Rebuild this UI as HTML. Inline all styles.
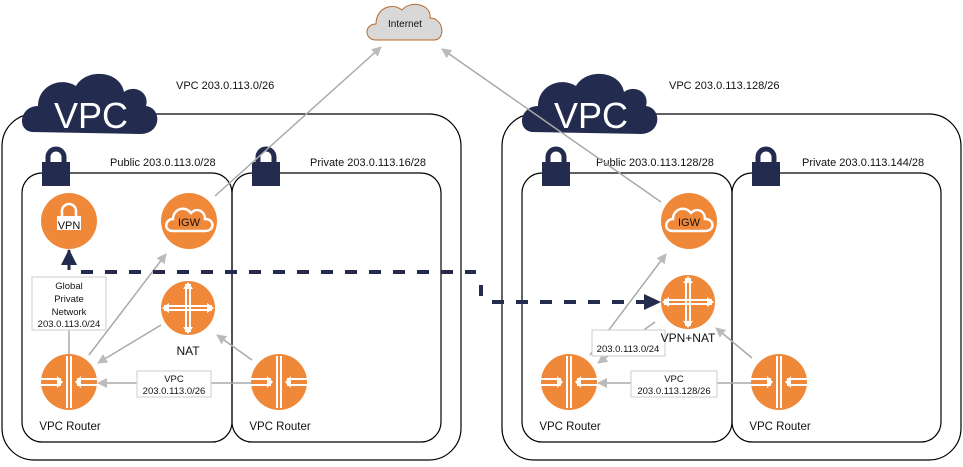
<!DOCTYPE html>
<html><head><meta charset="utf-8"><style>
body{margin:0;background:#fff}
svg{display:block}
text{font-family:"Liberation Sans",sans-serif;font-size:11px;fill:#111}
</style></head><body>
<svg width="963" height="467" viewBox="0 0 963 467" xmlns="http://www.w3.org/2000/svg">
<defs>
<marker id="ga" markerWidth="10" markerHeight="10" refX="9" refY="5" orient="auto" markerUnits="userSpaceOnUse"><path d="M0,0 L10,5 L0,10 z" fill="#bbb"/></marker>
<marker id="na" markerWidth="16" markerHeight="16" refX="15" refY="8" orient="auto" markerUnits="userSpaceOnUse"><path d="M0,0 L16,8 L0,16 z" fill="#232c4f"/></marker>
<g id="cloud"><path d="M12,60 C-4,58 0,34 18,34 C18,14 40,4 56,14 C66,-4 100,-2 104,20 C114,12 130,20 126,34 C142,36 142,62 120,62 Z" fill="#232c4f"/></g>
<g id="lock"><path d="M6,15 V9 a8,8 0 0 1 16,0 V15" fill="none" stroke="#232c4f" stroke-width="5"/><rect x="0" y="14" width="28" height="24" fill="#232c4f"/></g>
<g id="router"><circle r="28" fill="#f0883a"/><g stroke="#fff" stroke-width="2" fill="none"><line x1="-2" y1="-26" x2="-2" y2="26"/><line x1="2" y1="-26" x2="2" y2="26"/><line x1="-28" y1="-3" x2="-8" y2="-3"/><line x1="8" y1="-3" x2="28" y2="-3"/><line x1="-28" y1="3" x2="-8" y2="3"/><line x1="8" y1="3" x2="28" y2="3"/></g><path d="M-12,-6 L-6,0 L-12,6 z M12,-6 L6,0 L12,6 z" fill="#fff"/></g>
<g id="cross"><circle r="27" fill="#f0883a"/><g stroke="#fff" stroke-width="2" fill="none"><line x1="-2" y1="-24" x2="-2" y2="24"/><line x1="2" y1="-24" x2="2" y2="24"/><line x1="-24" y1="-2" x2="24" y2="-2"/><line x1="-24" y1="2" x2="24" y2="2"/></g><path d="M-5,-19 L0,-26 L5,-19 z M-5,19 L0,26 L5,19 z M-19,-5 L-26,0 L-19,5 z M19,-5 L26,0 L19,5 z" fill="#fff"/></g>
<g id="igw"><circle r="28" fill="#f0883a"/><path d="M-16,10 C-26,10 -24,-2 -16,-2 C-16,-12 -4,-16 2,-8 C8,-14 16,-10 16,-2 C26,-2 26,10 16,10 Z" fill="none" stroke="#fff" stroke-width="2.5"/><text x="0" y="5" text-anchor="middle" style="font-size:11px">IGW</text></g>
</defs>

<path d="M376,40 C364,40 364,24 376,24 C376,8 392,2 402,10 C410,0 432,4 430,18 C444,18 446,40 434,40 Z" fill="#d8d8d8" stroke="#b96a2a" stroke-width="1"/>
<text x="405" y="27" text-anchor="middle" style="font-size:10px">Internet</text>

<rect x="2" y="114" width="459" height="346" rx="32" fill="none" stroke="#000" stroke-width="1.2"/>
<rect x="22" y="173" width="210" height="269" rx="20" fill="none" stroke="#000" stroke-width="1.2"/>
<rect x="232" y="173" width="209" height="269" rx="20" fill="none" stroke="#000" stroke-width="1.2"/>
<use href="#cloud" x="20" y="72"/>
<text x="91" y="128" text-anchor="middle" style="font-size:36px;fill:#fff">VPC</text>
<text x="176" y="89">VPC 203.0.113.0/26</text>
<text x="110" y="166">Public 203.0.113.0/28</text>
<text x="310" y="166">Private 203.0.113.16/28</text>
<use href="#lock" x="42" y="148"/>
<use href="#lock" x="252" y="148"/>

<rect x="502" y="114" width="459" height="346" rx="32" fill="none" stroke="#000" stroke-width="1.2"/>
<rect x="522" y="173" width="210" height="269" rx="20" fill="none" stroke="#000" stroke-width="1.2"/>
<rect x="732" y="173" width="209" height="269" rx="20" fill="none" stroke="#000" stroke-width="1.2"/>
<use href="#cloud" x="520" y="72"/>
<text x="591" y="128" text-anchor="middle" style="font-size:36px;fill:#fff">VPC</text>
<text x="669" y="89">VPC 203.0.113.128/26</text>
<text x="596" y="166">Public 203.0.113.128/28</text>
<text x="802" y="166">Private 203.0.113.144/28</text>
<use href="#lock" x="542" y="148"/>
<use href="#lock" x="752" y="148"/>

<g stroke="#aaa" stroke-width="1.5" fill="none">
<line x1="215" y1="196" x2="381" y2="47" marker-end="url(#ga)"/>
<line x1="661" y1="202" x2="442" y2="49" marker-end="url(#ga)"/>
<line x1="89" y1="355" x2="166" y2="254" marker-end="url(#ga)"/>
<line x1="161" y1="325" x2="98" y2="363" marker-end="url(#ga)"/>
<line x1="252" y1="360" x2="217" y2="335" marker-end="url(#ga)"/>
<line x1="252" y1="383" x2="98" y2="383" marker-end="url(#ga)"/>
<line x1="69" y1="355" x2="69" y2="280"/>
<line x1="590" y1="355" x2="666" y2="254" marker-end="url(#ga)"/>
<line x1="655" y1="322" x2="598" y2="363" marker-end="url(#ga)"/>
<line x1="752" y1="358" x2="716" y2="328" marker-end="url(#ga)"/>
<line x1="752" y1="383" x2="598" y2="383" marker-end="url(#ga)"/>
</g>

<circle cx="69" cy="221" r="28" fill="#f0883a"/>
<path d="M62,217 V211 a7,7 0 0 1 14,0 V217" fill="none" stroke="#fff" stroke-width="2.5"/>
<rect x="57" y="216" width="24" height="14" fill="#fff"/>
<text x="69" y="229" text-anchor="middle" style="font-size:11px">VPN</text>
<use href="#igw" x="189" y="221"/>
<use href="#cross" x="188" y="308"/>
<text x="188" y="355" text-anchor="middle" style="font-size:12px">NAT</text>
<use href="#router" x="69" y="382"/>
<use href="#router" x="279" y="382"/>
<text x="70" y="430" text-anchor="middle" style="font-size:11.5px">VPC Router</text>
<text x="280" y="430" text-anchor="middle" style="font-size:11.5px">VPC Router</text>
<line x1="69" y1="270" x2="69" y2="250" stroke="#232c4f" stroke-width="3" marker-end="url(#na)"/>
<rect x="32" y="277" width="74" height="53" fill="#fff" stroke="#ccc"/>
<text x="69" y="289" text-anchor="middle" style="font-size:9.5px">Global</text>
<text x="69" y="302" text-anchor="middle" style="font-size:9.5px">Private</text>
<text x="69" y="315" text-anchor="middle" style="font-size:9.5px">Network</text>
<text x="69" y="327" text-anchor="middle" style="font-size:9.5px">203.0.113.0/24</text>
<rect x="137" y="371" width="74" height="26" fill="#fff" stroke="#ccc"/>
<text x="174" y="382" text-anchor="middle" style="font-size:9.5px">VPC</text>
<text x="174" y="394" text-anchor="middle" style="font-size:9.5px">203.0.113.0/26</text>

<use href="#igw" x="689" y="221"/>
<use href="#cross" x="688" y="302"/>
<rect x="592" y="330" width="73" height="26" fill="#fff" stroke="#ccc"/>
<text x="628" y="352" text-anchor="middle" style="font-size:9.5px">203.0.113.0/24</text>
<text x="688" y="342" text-anchor="middle" style="font-size:12px">VPN+NAT</text>
<use href="#router" x="569" y="382"/>
<use href="#router" x="779" y="382"/>
<text x="570" y="430" text-anchor="middle" style="font-size:11.5px">VPC Router</text>
<text x="780" y="430" text-anchor="middle" style="font-size:11.5px">VPC Router</text>
<rect x="631" y="371" width="86" height="26" fill="#fff" stroke="#ccc"/>
<text x="674" y="382" text-anchor="middle" style="font-size:9.5px">VPC</text>
<text x="674" y="394" text-anchor="middle" style="font-size:9.5px">203.0.113.128/26</text>

<g stroke="#232c4f" stroke-width="4" fill="none" stroke-dasharray="12,12">
<line x1="81" y1="272" x2="476" y2="272"/>
<line x1="481" y1="285" x2="481" y2="296"/>
<line x1="492" y1="302" x2="645" y2="302"/>
</g>
<path d="M644,294 L661,302 L644,310 z" fill="#232c4f"/>
</svg>
</body></html>
